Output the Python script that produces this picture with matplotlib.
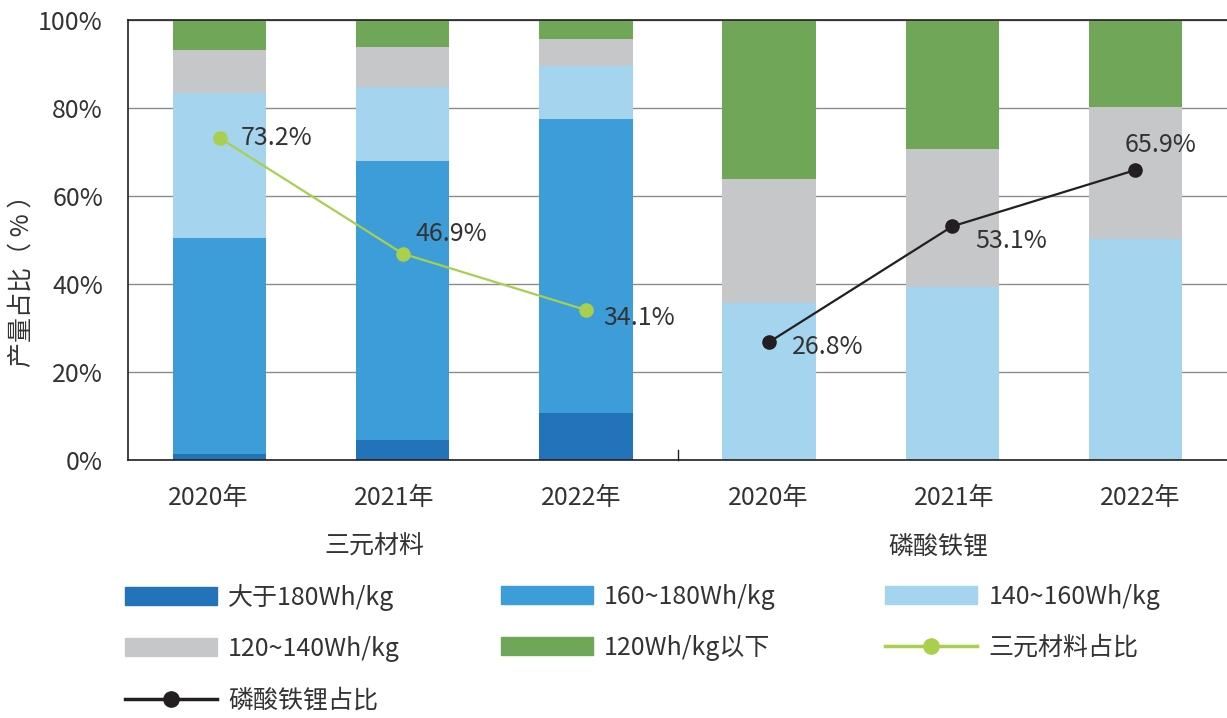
import numpy as np
import matplotlib.pyplot as plt
import matplotlib.transforms as mtransforms
from matplotlib.patches import Patch
from matplotlib.lines import Line2D

plt.rcParams['font.family'] = ['Noto Sans CJK SC', 'DejaVu Sans']

# data
years = ['2020年', '2021年', '2022年', '2020年', '2021年', '2022年']
groups = ['三元材料', '磷酸铁锂']
seg_names = ['大于180Wh/kg', '160~180Wh/kg', '140~160Wh/kg', '120~140Wh/kg', '120Wh/kg以下']
over180 = [1.4, 4.5, 10.7, 0, 0, 0]
s160_180 = [49.1, 63.5, 66.8, 0, 0, 0]
s140_160 = [32.9, 16.8, 12.0, 35.7, 39.3, 50.2]
s120_140 = [9.8, 9.1, 6.2, 28.2, 31.4, 30.0]
under120 = [6.8, 6.1, 4.3, 36.1, 29.3, 19.8]
ncm_share = [73.2, 46.9, 34.1]
lfp_share = [26.8, 53.1, 65.9]

colors = ['#2273ba', '#3c9dd8', '#a5d5ee', '#c6c7c9', '#6fa657']
green_line = '#a8d04c'
black_line = '#231f20'
txt = '#333333'
fs = 18

fig = plt.figure(figsize=(12.27, 7.18), dpi=100)
ax = fig.add_axes([128/1227, 1-460/718, 1-128/1227, 440/718])

x = np.arange(len(years))
bottom = np.zeros(len(years))
segs = [over180, s160_180, s140_160, s120_140, under120]
for vals, c in zip(segs, colors):
    ax.bar(x, vals, 0.51, bottom=bottom, color=c, zorder=2)
    bottom += np.array(vals)

ax.plot(x[:3], ncm_share, color=green_line, lw=1.6, marker='o', ms=9.5, zorder=3)
ax.plot(x[3:], lfp_share, color=black_line, lw=1.6, marker='o', ms=9.5, zorder=3)

# label offsets in pixels (dx, dy)
offs = [(21, 0), (13, 20), (17, -8), (23, -5), (23, -15), (-11, 25)]
for xi, v, (dx, dy) in zip(x, ncm_share + lfp_share, offs):
    ax.annotate(f'{v}%', (xi, v), xytext=(dx, dy), textcoords='offset pixels',
                ha='left', va='center', fontsize=fs, color=txt, fontweight='light', zorder=4)

ax.set_xlim(-0.5, 5.5)
ax.set_ylim(0, 100)
ax.set_yticks(np.arange(0, 101, 20))
ax.set_yticklabels([f'{t}%' for t in range(0, 101, 20)], fontsize=fs, color=txt, fontweight='light')
ax.set_xticks(x)
ax.set_xticklabels(years, fontsize=fs, color=txt, fontweight='light')
ax.tick_params(axis='y', length=0, pad=18)
ax.tick_params(axis='x', length=0, pad=18)
# the year labels in the reference sit slightly off the bar centres
shift_px = [-11, -9, -5, -1, 2, 5]
for lab, s in zip(ax.get_xticklabels(), shift_px):
    lab.set_transform(lab.get_transform() + mtransforms.ScaledTranslation(s/100, 0, fig.dpi_scale_trans))
ax.yaxis.grid(True, color='#8c8c8c', lw=1, zorder=0)
ax.set_axisbelow(True)
for side in ['left', 'bottom', 'top']:
    ax.spines[side].set_color('#231f20')
    ax.spines[side].set_linewidth(1.2)
ax.spines['right'].set_visible(False)
# group separator tick
ax.plot([2.5, 2.5], [0, 2.3], color='#231f20', lw=1, clip_on=False, zorder=3)

fig.text(374/1227, 1-547/718, groups[0], ha='center', va='center', fontsize=fs, color=txt, fontweight='light')
fig.text(938/1227, 1-547/718, groups[1], ha='center', va='center', fontsize=fs, color=txt, fontweight='light')
fig.text(22/1227, 1-275/718, '产量占比（ % ）', rotation=90, ha='center', va='center', fontsize=fs, color=txt, fontweight='light')

h = [Patch(color=c) for c in colors]
l1 = Line2D([], [], color=green_line, lw=2.5, marker='o', ms=11)
l2 = Line2D([], [], color=black_line, lw=2.5, marker='o', ms=11)
names = seg_names + ['三元材料占比', '磷酸铁锂占比']
hs = h + [l1, l2]
# one legend per column so the columns sit where the reference has them
cols = [([0, 3, 6], 123), ([1, 4], 499), ([2, 5], 883)]
for idx, xpx in cols:
    leg = fig.legend([hs[i] for i in idx], [names[i] for i in idx],
                     loc='upper left', bbox_to_anchor=((xpx - 11)/1227, 1-571/718), frameon=False,
                     prop={'size': fs, 'weight': 'light'}, handlelength=3.7, handleheight=0.72,
                     handletextpad=0.45, labelspacing=1.02, borderpad=0, labelcolor=txt)

fig.savefig('out.png', dpi=100)
